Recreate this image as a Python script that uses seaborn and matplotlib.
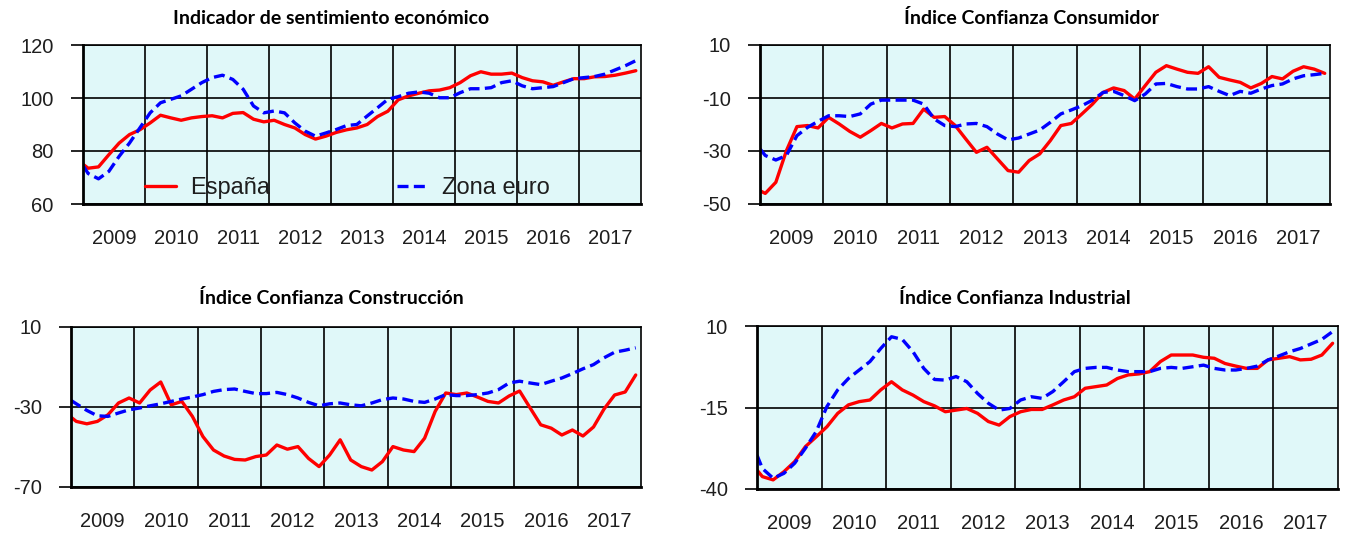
import numpy as np
import pandas as pd
import matplotlib
matplotlib.use("Agg")
import matplotlib.pyplot as plt
import seaborn as sns

# Sampling months, counted from January 2009 (0 = Jan 2009, 107 = Dec 2017)
meses = [0] + list(range(1, 106, 2)) + [107]
anios = [2009, 2010, 2011, 2012, 2013, 2014, 2015, 2016, 2017]
series = ["España", "Zona euro"]

# Indicador de sentimiento económico
ise_es = [75, 73.5, 74, 78.6, 83, 86.2, 88, 90.6, 93.5, 92.5, 91.6, 92.5, 93, 93.3,
          92.5, 94.2, 94.5, 92, 91, 91.6, 90, 88.7, 86.2, 84.5, 85.6, 87, 88, 88.7,
          90, 93, 95, 99.3, 100.8, 101.8, 102.7, 103, 103.9, 105.8, 108.4, 109.9, 109,
          109, 109.4, 107.7, 106.5, 106.1, 104.8, 106.1, 107.3, 107.3, 108, 108.1,
          108.6, 109.4, 110.3]
ise_ez = [74.5, 71.5, 69.5, 72.3, 78, 83, 88.7, 94.4, 98.2, 99.5, 100.8, 103.3, 105.8,
          107.7, 108.6, 107, 103.3, 97, 94.4, 95.1, 94.4, 90.6, 87.5, 85.6, 86.8, 88.1,
          89.6, 90, 93.2, 96.3, 99.5, 100.5, 101.8, 102.3, 101.8, 100.1, 100.1, 102,
          103.5, 103.5, 103.9, 105.8, 106.5, 104.6, 103.5, 103.9, 104.3, 105.8, 107.3,
          107.7, 108.1, 109, 110.6, 112.2, 114.1]

# Índice Confianza Consumidor
cons_es = [-45, -46, -41.8, -29.9, -20.8, -20.4, -21.3, -17.3, -19.8, -22.6, -24.8,
           -22.3, -19.6, -21.3, -19.8, -19.6, -14.2, -17.3, -17, -20.4, -25.5, -30.5,
           -28.6, -33, -37.4, -38, -33.6, -31.1, -26.1, -20.4, -19.6, -16, -12.3, -7.9,
           -6.2, -7.2, -10.4, -5.3, -0.3, 2.2, 0.9, -0.3, -0.7, 1.8, -2.2, -3.2, -4.1,
           -6.2, -4.5, -1.9, -2.8, 0.1, 1.8, 0.9, -0.7]
cons_ez = [-29.2, -31.7, -33.4, -31.7, -24.2, -21.1, -18.8, -16.7, -16.7, -17, -16,
           -12.3, -10.8, -10.8, -10.8, -10.8, -12.3, -17.9, -20.4, -20.8, -19.8, -19.6,
           -20.8, -23.6, -25.8, -25.1, -23.6, -22.1, -19.2, -16, -14.5, -12.9, -10.8,
           -7.9, -7.5, -9.1, -11, -8.5, -4.7, -4.5, -5.7, -6.6, -6.6, -5.7, -7.5, -9.1,
           -7.5, -8.2, -6.6, -5.3, -4.7, -2.8, -1.6, -1.2, -0.7]

# Índice Confianza Construcción
cstr_es = [-35.1, -37.2, -38.4, -37.2, -33.9, -28, -25.5, -28, -21.5, -17.5, -28.9,
           -27.2, -34.7, -44.8, -51.5, -54.5, -56.2, -56.5, -54.8, -54, -49, -51.1,
           -49.8, -55.7, -59.8, -54, -46.4, -56.5, -59.8, -61.5, -57.3, -49.8, -51.5,
           -52.3, -45.6, -32.2, -23, -23.8, -23, -25, -27.2, -28, -24.5, -22, -30.5,
           -38.9, -40.6, -44, -41.5, -44.5, -40, -31, -24, -22.5, -14]
cstr_ez = [-26.7, -28.4, -31.7, -34.4, -34.7, -33, -31.4, -30.5, -29.4, -28.4, -27.2,
           -26, -25, -23.8, -22.2, -21.3, -21, -22.2, -23.3, -23.3, -22.7, -23.8, -25.5,
           -27.7, -29.4, -28.4, -28, -28.9, -29.4, -28, -26.3, -25.5, -26, -27.2, -27.7,
           -26, -23.8, -24.3, -24.3, -23.8, -23, -21.3, -18, -17.1, -18, -18.8, -17.1,
           -15.5, -13.3, -10.9, -8.8, -5.4, -2.6, -1.6, -0.4]

# Índice Confianza Industrial
ind_es = [-34.2, -36.2, -37.2, -34.7, -31.6, -27, -24, -20.9, -16.8, -14.2, -13.2,
          -12.7, -9.6, -7.1, -9.6, -11.2, -13.2, -14.5, -16.3, -15.8, -15.3, -16.8,
          -19.3, -20.4, -17.8, -16.3, -15.6, -15.6, -14.2, -12.7, -11.7, -9.1, -8.6,
          -8.1, -6.1, -5, -4.7, -4, -0.9, 1.1, 1.1, 1.1, 0.4, 0.1, -1.5, -2.3, -3, -3,
          -0.4, 0.1, 0.6, -0.4, -0.2, 1.1, 4.7]
ind_ez = [-29.6, -33.7, -36.7, -35.2, -32.1, -27.5, -22.4, -14.7, -9.6, -6.1, -3.5,
          -0.9, 3.1, 6.7, 5.9, 2.1, -3, -6.4, -6.6, -5.5, -7.1, -10.7, -13.7, -15.8,
          -15.3, -12.7, -11.7, -12.2, -10.1, -7.1, -4, -3, -2.7, -2.7, -3.5, -4, -4, -4,
          -3, -2.7, -3, -2.5, -2, -3, -3.5, -3.5, -3, -2.3, -0.4, 0.8, 2.1, 3.1, 4.5,
          5.9, 8.3]

titulos = ["Indicador de sentimiento económico", "Índice Confianza Consumidor",
           "Índice Confianza Construcción", "Índice Confianza Industrial"]
yticks_ise = [60, 80, 100, 120]
yticks_cons = [-50, -30, -10, 10]
yticks_cstr = [-70, -30, 10]
yticks_ind = [-40, -15, 10]

sns.set_theme(style="white")
plt.rcParams["font.family"] = ["Liberation Sans", "DejaVu Sans"]

W, H = 1346, 534
fig = plt.figure(figsize=(W / 100, H / 100), dpi=100)

fechas = [2009 + m / 12 for m in meses]
colores = {"España": "#ff0000", "Zona euro": "#0000ff"}
trazos = {"España": "", "Zona euro": (3.3, 1.6)}
TXT = "#1e1e1e"


def px_axes(left, top, right, bottom):
    return [left / W, 1 - bottom / H, (right - left) / W, (bottom - top) / H]


def panel(rect, es, ez, yticks, titulo, tpos, leyenda=False):
    ax = fig.add_axes(px_axes(*rect))
    n = len(fechas)
    df = pd.DataFrame({
        "fecha": fechas * 2,
        "valor": es + ez,
        "serie": [series[0]] * n + [series[1]] * n,
    })
    sns.lineplot(data=df, x="fecha", y="valor", hue="serie", style="serie",
                 palette=colores, dashes=trazos, linewidth=2.4, estimator=None,
                 legend=leyenda, ax=ax)
    ax.set_facecolor("#e0f8f9")
    ax.set_xlim(2009, 2018)
    ax.set_ylim(yticks[0], yticks[-1])
    ax.set_yticks(yticks)
    ax.set_yticklabels([str(v) for v in yticks], color=TXT, fontsize=14.5)
    ax.set_xticks(range(2010, 2018))
    ax.set_xticklabels([])
    ax.set_xticks([a + 0.5 for a in anios], minor=True)
    ax.set_xticklabels([str(a) for a in anios], minor=True, color=TXT, fontsize=14.5)
    ax.tick_params(axis="x", which="both", length=0, bottom=False)
    ax.tick_params(axis="x", which="minor", pad=18)
    ax.tick_params(axis="y", which="major", left=True, length=9, width=1.2,
                   color="black", pad=12, direction="out")
    ax.grid(True, which="major", color="black", linewidth=1.2)
    ax.set_axisbelow(True)
    ax.set_xlabel("")
    ax.set_ylabel("")
    for lado, sp in ax.spines.items():
        sp.set_visible(True)
        sp.set_color("black")
        sp.set_linewidth(2.0 if lado in ("left", "bottom") else 1.2)
    fig.text(tpos[0] / W, 1 - tpos[1] / H, titulo, ha="center", va="center",
             fontsize=14, fontweight="bold", family=["Lato", "DejaVu Sans"],
             color="black")
    if leyenda:
        handles, labels = ax.get_legend_handles_labels()
        ax.legend(handles, labels, loc="center left", bbox_to_anchor=(0.111, 0.1),
                  ncol=2, frameon=False, fontsize=17, handlelength=1.3,
                  handletextpad=0.6, columnspacing=5.4, borderpad=0,
                  borderaxespad=0, labelcolor=TXT)
    return ax


panel((83, 45, 641, 204), ise_es, ise_ez, yticks_ise, titulos[0], (331, 18), leyenda=True)
panel((760, 45, 1330, 204), cons_es, cons_ez, yticks_cons, titulos[1], (1031, 18))
panel((71, 327, 641, 487), cstr_es, cstr_ez, yticks_cstr, titulos[2], (331, 298))
panel((757, 326, 1338, 489), ind_es, ind_ez, yticks_ind, titulos[3], (1015, 298))

fig.savefig("out.png", dpi=100, facecolor="white")
